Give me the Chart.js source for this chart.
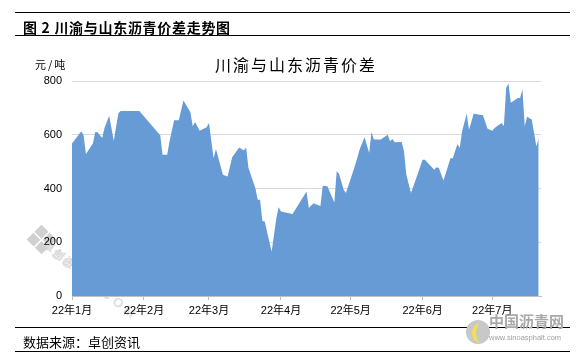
<!DOCTYPE html>
<html><head><meta charset="utf-8">
<script src="https://cdn.jsdelivr.net/npm/chart.js@4/dist/chart.umd.min.js"></script>
<style>
html,body{margin:0;padding:0;background:#fff;}
#wrap{position:relative;width:582px;height:357px;overflow:hidden;font-family:"Liberation Sans",Arial,"Noto Sans CJK SC",sans-serif;color:#000;}
#c{position:absolute;left:0;top:0;z-index:2;}
.rule{position:absolute;left:15px;width:555px;height:0;border-top:1.5px solid #000;z-index:3;}
.txt{position:absolute;white-space:nowrap;line-height:1;z-index:3;}
#wm{position:absolute;left:58px;top:246px;z-index:1;transform:rotate(38deg);transform-origin:0 0;color:#dedede;font:bold 13px "Liberation Sans",sans-serif;letter-spacing:4px;}
#wm2{position:absolute;left:50px;top:236px;z-index:1;transform:rotate(38deg);transform-origin:0 0;color:#d6d6d6;font:bold 11px "Noto Sans CJK SC",sans-serif;letter-spacing:2px;}
#wmlogo{position:absolute;left:31px;top:229px;width:21px;height:21px;z-index:1;transform:rotate(45deg);
  background:linear-gradient(#fff,#fff) 10px 0/1.5px 100% no-repeat, linear-gradient(#fff,#fff) 0 10px/100% 1.5px no-repeat, #d0d0d0;}
#logo{position:absolute;left:466px;top:320px;width:24px;height:24px;border-radius:50%;background:#c8c8c8;z-index:3;overflow:hidden;}
#logo:after{content:"";position:absolute;left:6px;top:3px;width:14px;height:20px;border-radius:50%;border-left:4px solid #f2e24a;}
</style></head>
<body>
<div id="wrap">
  <div class="rule" style="top:12px"></div>
  <div class="txt" style="left:23px;top:17px;font:bold 14px 'Noto Sans CJK SC',sans-serif;letter-spacing:0.7px;">图 2 川渝与山东沥青价差走势图</div>
  <div class="rule" style="top:35px"></div>
  <div class="txt" style="left:0;width:592px;text-align:center;top:52px;font:16px 'Noto Sans CJK SC',sans-serif;letter-spacing:2px;">川渝与山东沥青价差</div>
  <div class="txt" style="left:35px;top:56px;font:11px 'Noto Sans CJK SC',sans-serif;letter-spacing:2px;">元/吨</div>
  <div id="wmlogo"></div>
  <div id="wm2">卓创资讯</div>
  <div id="wm">SCI99.COM</div>
  <canvas id="c" width="582" height="357"></canvas>
  <div class="rule" style="top:327px"></div>
  <div class="txt" style="left:23px;top:332px;font:13px 'Noto Sans CJK SC',sans-serif;">数据来源：卓创资讯</div>
  <div class="rule" style="top:351px"></div>
  <div id="logo"></div>
  <div class="txt" style="left:489px;top:310px;font:bold 15px 'Noto Sans CJK SC',sans-serif;color:#a9a9a9;">中国沥青网</div>
  <div class="txt" style="left:489px;top:333px;font:7.5px 'Liberation Sans',sans-serif;color:#a0a0a0;">www.sinoasphalt.com</div>
</div>
<script>
const dates = [
 "2022-01-01","2022-01-05","2022-01-06","2022-01-07","2022-01-10","2022-01-11","2022-01-12","2022-01-14",
 "2022-01-15","2022-01-17","2022-01-19","2022-01-21","2022-01-22","2022-01-30","2022-02-08","2022-02-09",
 "2022-02-11","2022-02-12","2022-02-14","2022-02-16","2022-02-18","2022-02-21","2022-02-22","2022-02-23",
 "2022-02-25","2022-02-28","2022-03-01","2022-03-03","2022-03-04","2022-03-07","2022-03-09","2022-03-11",
 "2022-03-14","2022-03-16","2022-03-17","2022-03-18","2022-03-21","2022-03-22","2022-03-23","2022-03-24",
 "2022-03-25","2022-03-28","2022-03-30","2022-03-31","2022-04-01","2022-04-06","2022-04-12","2022-04-13",
 "2022-04-15","2022-04-18","2022-04-19","2022-04-21","2022-04-24","2022-04-25","2022-04-26","2022-04-28",
 "2022-04-29","2022-05-03","2022-05-05","2022-05-07","2022-05-09","2022-05-10","2022-05-11","2022-05-14",
 "2022-05-17","2022-05-18","2022-05-19","2022-05-20","2022-05-23","2022-05-24","2022-05-25","2022-05-27",
 "2022-05-30","2022-06-01","2022-06-02","2022-06-06","2022-06-07","2022-06-08","2022-06-10","2022-06-13",
 "2022-06-14","2022-06-16","2022-06-17","2022-06-18","2022-06-20","2022-06-21","2022-06-23","2022-06-27",
 "2022-06-29","2022-07-01","2022-07-02","2022-07-05","2022-07-06","2022-07-07","2022-07-08","2022-07-09",
 "2022-07-12","2022-07-13","2022-07-14","2022-07-15","2022-07-16","2022-07-18","2022-07-20","2022-07-21"
];
const values = [
 567,613,598,528,567,610,609,588,
 625,671,578,681,688,688,598,526,
 526,576,654,654,727,684,632,647,
 615,628,644,513,547,451,445,516,
 553,541,553,476,401,358,358,279,
 277,165,289,330,314,305,389,327,
 345,335,410,408,348,464,455,395,
 383,488,548,591,532,610,582,582,
 600,576,584,572,573,538,451,383,
 457,507,507,470,479,476,430,513,
 513,566,551,613,678,619,678,673,
 622,615,625,644,632,775,791,719,
 737,737,769,632,667,657,557,586
];
const monthStarts = ["2022-01-01","2022-02-01","2022-03-01","2022-04-01","2022-05-01","2022-06-01","2022-07-01"];
const monthLabels = ["22年1月","22年2月","22年3月","22年4月","22年5月","22年6月","22年7月"];
const yTicks = [0,200,400,600,800];
const axisStart = "2022-01-01";
const axisEnd = "2022-07-22";

function dayIndex(s){
  const p = s.split("-").map(Number);
  const q = axisStart.split("-").map(Number);
  return (Date.UTC(p[0],p[1]-1,p[2]) - Date.UTC(q[0],q[1]-1,q[2]))/86400000;
}
const points = dates.map((d,i)=>({x:dayIndex(d), y:values[i]}));

new Chart(document.getElementById('c'), {
  type:'line',
  data:{datasets:[{data:points, fill:'origin', backgroundColor:'#679bd5', borderColor:'rgba(0,0,0,0)', borderWidth:0, pointRadius:0, tension:0}]},
  options:{
    responsive:false, animation:false, devicePixelRatio:1,
    layout:{padding:{left:0,right:41,top:81,bottom:31}},
    plugins:{legend:{display:false},tooltip:{enabled:false},title:{display:false}},
    scales:{
      x:{type:'linear', min:0, max:dayIndex(axisEnd),
        afterBuildTicks:s=>{s.ticks = monthStarts.map(d=>({value:dayIndex(d)}));},
        afterFit:s=>{s.height=30;},
        ticks:{autoSkip:false, maxRotation:0, minRotation:0, padding:4, color:'#000',
          font:{size:11, family:"'Liberation Sans', Arial, 'Noto Sans CJK SC', sans-serif"},
          callback:(v,i)=>monthLabels[i]},
        grid:{drawOnChartArea:false, tickLength:4, color:'#bfbfbf'},
        border:{color:'#bfbfbf'}
      },
      y:{min:0, max:800,
        afterBuildTicks:s=>{s.ticks = yTicks.map(v=>({value:v}));},
        afterFit:s=>{s.width=72;},
        ticks:{padding:10, color:'#000', font:{size:11, family:"'Liberation Sans', Arial, sans-serif"}},
        grid:{color:'#d9d9d9', drawTicks:false},
        border:{display:false}
      }
    }
  }
});
</script>
</body></html>
